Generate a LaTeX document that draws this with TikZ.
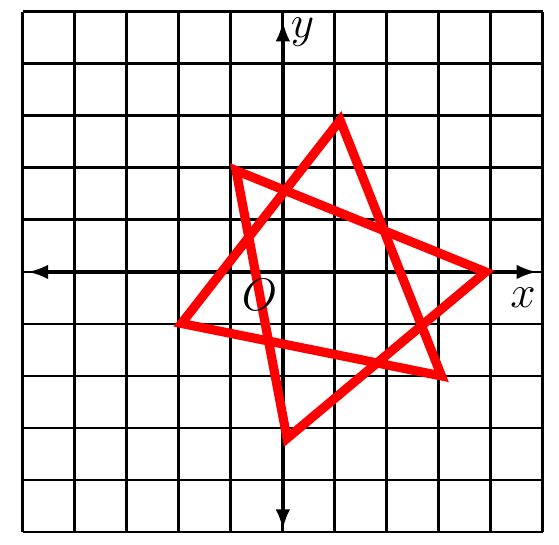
\documentclass[tikz,border=0pt]{standalone}
\usetikzlibrary{arrows.meta}
\begin{document}
\begin{tikzpicture}[x=1cm,y=1cm,
  gridline/.style={black, line width=1.6pt},
  axisline/.style={black, line width=1.8pt, -{Latex[length=11pt,width=8pt]}},
  startri/.style={red, line width=5pt, line join=miter, miter limit=4},
  axlabel/.style={font=\fontsize{25}{30}\selectfont, inner sep=0pt}]
\useasboundingbox (-5.44,-5.25) rectangle (5.31,5.23);
\fill[white] (-5.44,-5.25) rectangle (5.31,5.23);
% grid
\foreach \i in {-5,...,5} {
  \draw[gridline] (\i,-5) -- (\i,5);
  \draw[gridline] (-5,\i) -- (5,\i);
}
% axes
\coordinate (origin) at (0,0);
\coordinate (xl) at (-4.9,0);
\coordinate (xr) at (4.88,0);
\coordinate (yb) at (0,-4.95);
\coordinate (yt) at (0,4.82);
\draw[axisline] (origin) -- (xr);
\draw[axisline] (origin) -- (xl);
\draw[axisline] (origin) -- (yt);
\draw[axisline] (origin) -- (yb);
% star
\coordinate (A1) at (1.1,2.92);
\coordinate (A2) at (-1.95,-0.99);
\coordinate (A3) at (3.05,-2.0);
\coordinate (B1) at (-0.9,1.95);
\coordinate (B2) at (3.9,0.0);
\coordinate (B3) at (0.08,-3.2);
\draw[startri] (A1) -- (A2) -- (A3) -- cycle;
\draw[startri] (B1) -- (B2) -- (B3) -- cycle;
% labels
\node[axlabel] (ylab) at (0.38,4.62) {$y$};
\node[axlabel] (xlab) at (4.62,-0.5) {$x$};
\node[axlabel] (olab) at (-0.45,-0.45) {$O$};
\end{tikzpicture}
\end{document}
